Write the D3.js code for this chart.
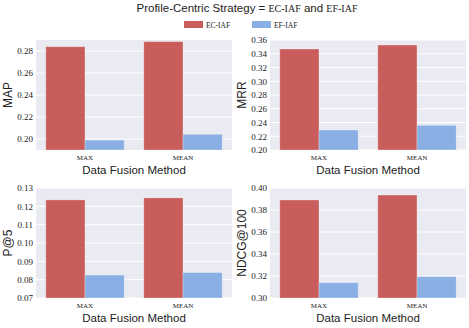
<!DOCTYPE html>
<html>
<head>
<meta charset="utf-8">
<script src="https://cdn.jsdelivr.net/npm/d3@7"></script>
<style>
  body { margin: 0; background: #fff; }
  svg text { fill: #222; }
</style>
</head>
<body>
<svg id="chart" width="469" height="328"></svg>
<script>
// data
var methods = ["MAX", "MEAN"];
var series = ["EC-IAF", "EF-IAF"];
var metrics = ["MAP", "MRR", "P@5", "NDCG@100"];
var mapValues = [[0.2839, 0.1990], [0.2885, 0.2043]];
var mrrValues = [[0.3469, 0.2291], [0.3527, 0.2359]];
var p5Values = [[0.1235, 0.0825], [0.1246, 0.0839]];
var ndcgValues = [[0.3891, 0.3139], [0.3936, 0.3194]];
var yDomains = [[0.19, 0.29], [0.20, 0.36], [0.07, 0.13], [0.30, 0.40]];
var yTicks = [
  [0.20, 0.22, 0.24, 0.26, 0.28],
  [0.20, 0.22, 0.24, 0.26, 0.28, 0.30, 0.32, 0.34, 0.36],
  [0.07, 0.08, 0.09, 0.10, 0.11, 0.12, 0.13],
  [0.30, 0.32, 0.34, 0.36, 0.38, 0.40]
];
var allValues = [mapValues, mrrValues, p5Values, ndcgValues];

var colors = ["#c95d5b", "#8aafe4"];
var serif = "'Liberation Serif', 'DejaVu Serif', serif";
var sans = "'Liberation Sans', 'DejaVu Sans', sans-serif";

var svg = d3.select("#chart");

// title, mixed fonts like the LaTeX original
var title = svg.append("text")
  .attr("x", 247)
  .attr("y", 12)
  .attr("text-anchor", "middle")
  .style("font-size", "11.5px");
title.append("tspan").style("font-family", sans).text("Profile-Centric Strategy = ");
title.append("tspan").style("font-family", serif).style("font-size", "10px").text("EC-IAF");
title.append("tspan").style("font-family", sans).text(" and ");
title.append("tspan").style("font-family", serif).style("font-size", "10px").text("EF-IAF");

// legend
var legendX = [184, 252];
series.forEach((s, i) => {
  svg.append("rect")
    .attr("x", legendX[i])
    .attr("y", 21)
    .attr("width", 19)
    .attr("height", 7)
    .attr("fill", colors[i]);
  svg.append("text")
    .attr("x", legendX[i] + 22)
    .attr("y", 27.5)
    .style("font-family", serif)
    .style("font-size", "7.5px")
    .text(s);
});

var panels = [
  { left: 36, right: 232, top: 40, bottom: 150 },
  { left: 270, right: 466, top: 40, bottom: 150 },
  { left: 36, right: 232, top: 188, bottom: 298 },
  { left: 270, right: 466, top: 188, bottom: 298 }
];

panels.forEach((p, k) => drawPanel(p, k));

function drawPanel(p, k) {
  var g = svg.append("g");
  var values = allValues[k];

  var x = d3.scaleBand().domain(methods).range([p.left, p.right]);
  var xSub = d3.scaleBand().domain(series).range([0, x.bandwidth()]).paddingOuter(0.25);
  var y = d3.scaleLinear().domain(yDomains[k]).range([p.bottom, p.top]);

  g.append("rect")
    .attr("x", p.left)
    .attr("y", p.top)
    .attr("width", p.right - p.left)
    .attr("height", p.bottom - p.top)
    .attr("fill", "#eaeaf2");

  g.selectAll("line.grid")
    .data(yTicks[k])
    .enter()
    .append("line")
    .attr("class", "grid")
    .attr("x1", p.left)
    .attr("x2", p.right)
    .attr("y1", d => y(d))
    .attr("y2", d => y(d))
    .attr("stroke", "#fff")
    .attr("stroke-width", 1);

  methods.forEach((m, mi) => {
    g.selectAll(null)
      .data(values[mi])
      .enter()
      .append("rect")
      .attr("x", (d, si) => x(m) + xSub(series[si]))
      .attr("y", d => y(d))
      .attr("width", xSub.bandwidth())
      .attr("height", d => p.bottom - y(d))
      .attr("fill", (d, si) => colors[si])
      .attr("stroke", "rgba(255,255,255,0.35)")
      .attr("stroke-width", 0.8);
  });

  // y axis
  var yAxis = g.append("g")
    .attr("transform", `translate(${p.left},0)`)
    .call(d3.axisLeft(y).tickValues(yTicks[k]).tickFormat(d3.format(".2f")).tickSize(0).tickPadding(3));
  yAxis.select(".domain").remove();
  yAxis.selectAll("text")
    .style("font-family", serif)
    .style("font-size", "9px")
    .attr("fill", "#333");

  // x axis, labels placed by hand so they clear the title
  var xAxis = g.append("g")
    .attr("transform", `translate(0,${p.bottom})`)
    .call(d3.axisBottom(x).tickSize(0));
  xAxis.select(".domain").remove();
  xAxis.selectAll("text")
    .attr("y", 9.5)
    .attr("dy", null)
    .style("font-family", serif)
    .style("font-size", "7px")
    .attr("fill", "#333");

  g.append("text")
    .attr("x", (p.left + p.right) / 2)
    .attr("y", p.bottom + 23.5)
    .attr("text-anchor", "middle")
    .style("font-family", sans)
    .style("font-size", "11.5px")
    .text("Data Fusion Method");

  g.append("text")
    .attr("transform", `translate(${p.left - 24},${(p.top + p.bottom) / 2}) rotate(-90)`)
    .attr("text-anchor", "middle")
    .style("font-family", sans)
    .style("font-size", "12px")
    .text(metrics[k]);
}
</script>
</body>
</html>
